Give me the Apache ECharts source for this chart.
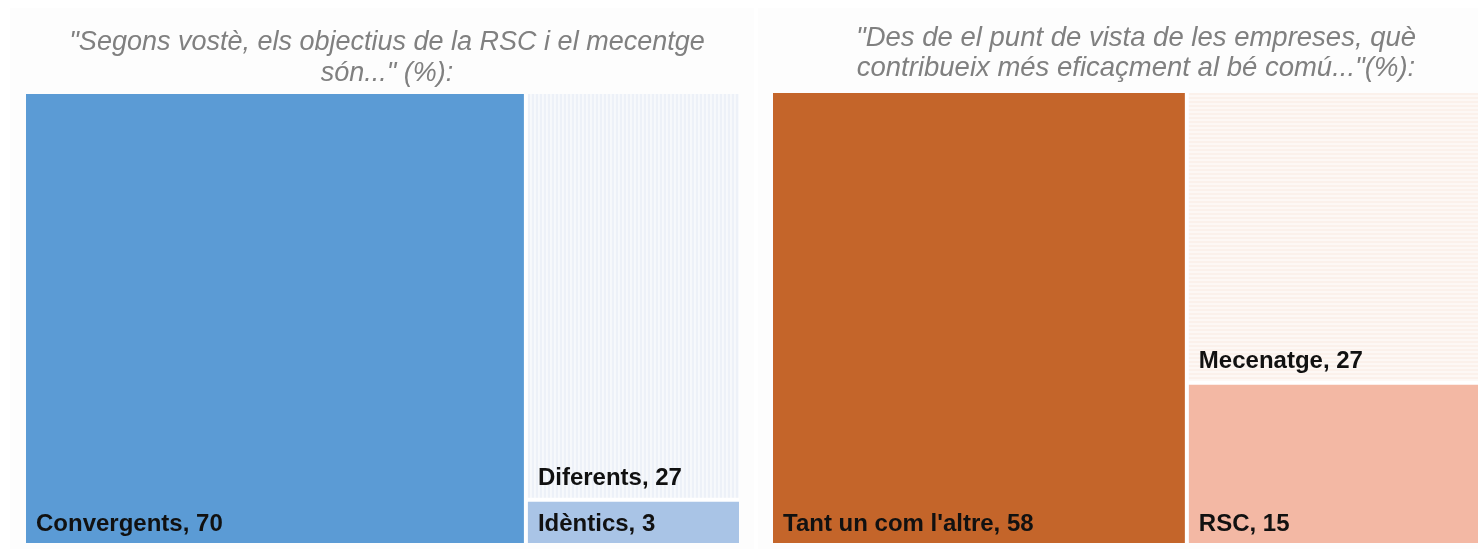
<!DOCTYPE html>
<html>
<head>
<meta charset="utf-8">
<script src="https://cdn.jsdelivr.net/npm/echarts@6/dist/echarts.min.js"></script>
<style>
  html, body { margin: 0; padding: 0; background: #fff; }
  #main { width: 1478px; height: 549px; }
</style>
</head>
<body>
<div id="main"></div>
<script>
// dades
const leftTitle = '"Segons vostè, els objectius de la RSC i el mecentge\nsón..." (%):';
const leftNames = ['Convergents', 'Diferents', 'Idèntics'];
const leftValues = [70, 27, 3];

const rightTitle = '"Des de el punt de vista de les empreses, què\ncontribueix més eficaçment al bé comú..."(%):';
const rightNames = ["Tant un com l'altre", 'Mecenatge', 'RSC'];
const rightValues = [58, 27, 15];

// patrons de ratlles
function stripes(bg, line, vertical) {
  const c = document.createElement('canvas');
  c.width = 4; c.height = 4;
  const ctx = c.getContext('2d');
  ctx.fillStyle = bg;
  ctx.fillRect(0, 0, 4, 4);
  ctx.fillStyle = line;
  if (vertical) ctx.fillRect(0, 0, 2, 4);
  else ctx.fillRect(0, 0, 4, 2);
  return { image: c, repeat: 'repeat' };
}

const leftColors = ['#5b9bd5', stripes('#f7f9fc', '#edf1f8', true), '#a9c4e6'];
const rightColors = ['#c4652a', stripes('#fdf8f5', '#fbf1eb', false), '#f3b8a4'];

function build(names, values, colors) {
  return names.map((n, i) => ({
    name: n,
    value: values[i],
    itemStyle: { color: colors[i] }
  }));
}

function tree(data, box) {
  return Object.assign({
    type: 'treemap',
    roam: false,
    nodeClick: false,
    breadcrumb: { show: false },
    squareRatio: 1,
    label: {
      show: true,
      position: 'insideBottomLeft',
      formatter: p => p.name + ', ' + p.value,
      color: '#111',
      fontFamily: 'Liberation Sans',
      fontWeight: 'bold',
      fontSize: 24,
      padding: [0, 0, 7, 10]
    },
    levels: [{ itemStyle: { gapWidth: 4, borderWidth: 0 } }],
    itemStyle: { borderWidth: 0 },
    data: data
  }, box);
}

const chart = echarts.init(document.getElementById('main'));
chart.setOption({
  animation: false,
  graphic: [
    { type: 'rect', shape: { x: 10, y: 8, width: 744, height: 541 }, style: { fill: '#fdfdfd' }, z: -10 },
    { type: 'rect', shape: { x: 758, y: 8, width: 720, height: 541 }, style: { fill: '#fdfdfd' }, z: -10 }
  ],
  title: [
    {
      text: leftTitle, left: 382, top: 22, textAlign: 'center',
      textStyle: { fontFamily: 'Liberation Sans', fontStyle: 'italic', fontWeight: 'normal', fontSize: 27, lineHeight: 31, color: '#808080' }
    },
    {
      text: rightTitle, left: 1131, top: 18, textAlign: 'center',
      textStyle: { fontFamily: 'Liberation Sans', fontStyle: 'italic', fontWeight: 'normal', fontSize: 27.5, lineHeight: 30, color: '#808080' }
    }
  ],
  series: [
    tree(build(leftNames, leftValues, leftColors), { left: 26, top: 94, width: 713, height: 449 }),
    tree(build(rightNames, rightValues, rightColors), { left: 773, top: 93, width: 713, height: 450 })
  ]
});
</script>
</body>
</html>
